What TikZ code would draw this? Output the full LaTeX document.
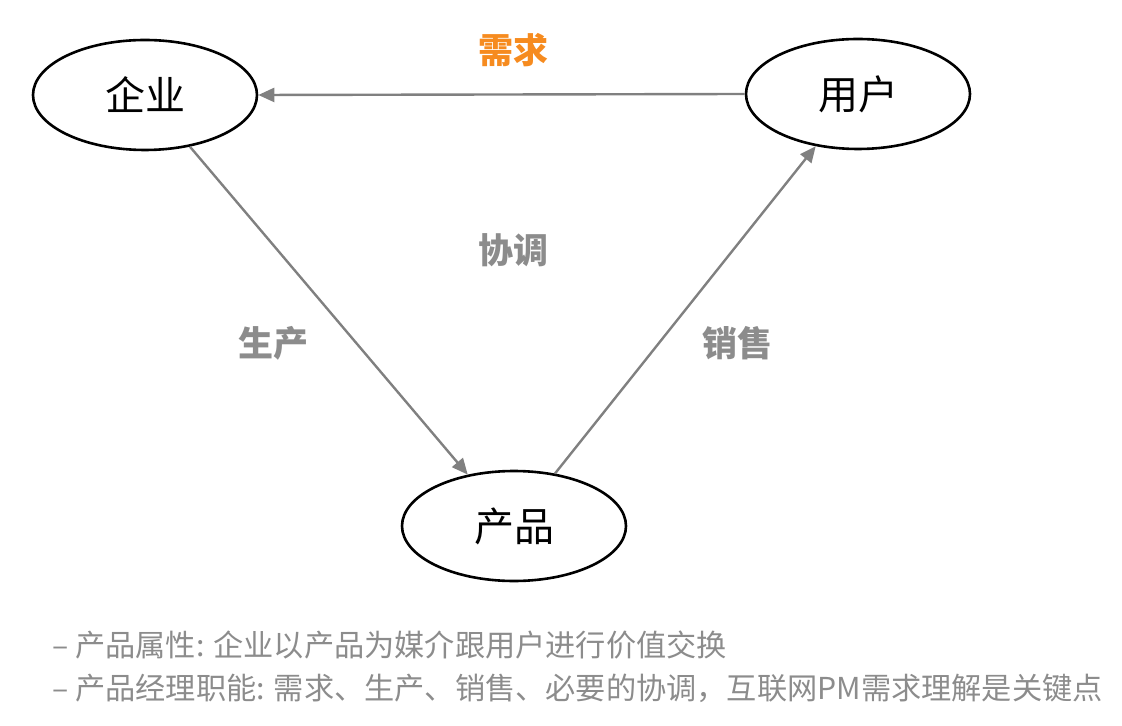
\documentclass[tikz,border=0pt]{standalone}
\usepackage{fontspec}
\newfontfamily\cjk{Noto Sans CJK SC}
\usetikzlibrary{shapes.geometric,arrows.meta}
\definecolor{lblgray}{HTML}{8C8C8C}
\definecolor{linegray}{HTML}{808080}
\definecolor{lblorange}{HTML}{F68B1F}
\tikzset{
  ent/.style={draw=black,line width=1.3pt,ellipse,minimum width=112pt,minimum height=55pt,inner sep=0pt,font=\cjk\fontsize{20pt}{24pt}\selectfont},
  conn/.style={draw=linegray,line width=1.2pt,-{Triangle[length=8pt,width=7pt]}},
  lbl/.style={text=lblgray,font=\cjk\bfseries\fontsize{17.5pt}{20pt}\selectfont},
  note/.style={text=lblgray,anchor=west,inner sep=0pt,font=\cjk\fontsize{15.1pt}{18pt}\selectfont}
}
\begin{document}
\begin{tikzpicture}[x=0.5pt,y=-0.5pt]
\useasboundingbox (0,0) rectangle (1122,726);
\node[ent] (qiye) at (145,95) {企业};
\node[ent] (yonghu) at (858,94) {用户};
\node[ent] (chanpin) at (514,526) {产品};
\draw[conn] (yonghu.west) -- (qiye.east);
\draw[conn] (qiye.-49) -- (chanpin.132);
\draw[conn] (chanpin.52) -- (yonghu.231);
\node[lbl,text=lblorange] (xuqiu) at (513,50) {需求};
\node[lbl] (xietiao) at (513,250) {协调};
\node[lbl] (shengchan) at (273,343) {生产};
\node[lbl] (xiaoshou) at (737,343) {销售};
\node[note] (n1) at (52,645) {– 产品属性: 企业以产品为媒介跟用户进行价值交换};
\node[note] (n2) at (52,688) {– 产品经理职能: 需求、生产、销售、必要的协调，互联网PM需求理解是关键点};
\end{tikzpicture}
\end{document}
